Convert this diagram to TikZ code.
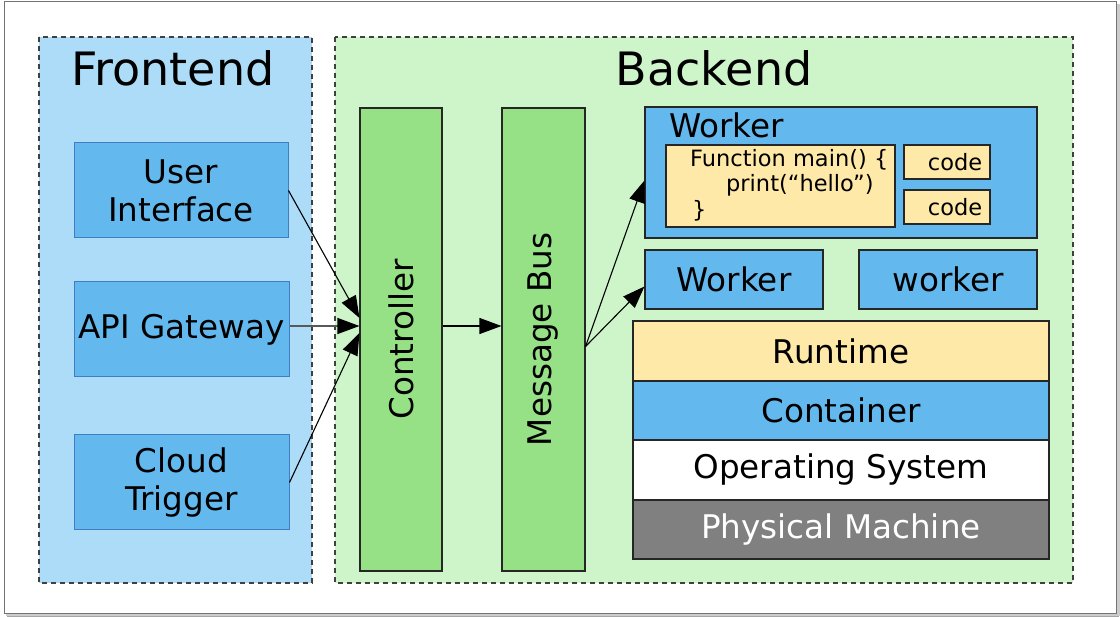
\documentclass[tikz,border=0pt]{standalone}
\usepackage{fontspec}
\setmainfont{DejaVu Sans}
\usetikzlibrary{arrows.meta}
\definecolor{feback}{HTML}{ADDCF8}
\definecolor{beback}{HTML}{CEF5CA}
\definecolor{boxblue}{HTML}{63B9EE}
\definecolor{edgeblue}{HTML}{3F7EC2}
\definecolor{boxgreen}{HTML}{96E086}
\definecolor{boxyellow}{HTML}{FFE9A8}
\definecolor{boxgray}{HTML}{808080}
\tikzset{
  big/.style={font=\fontsize{46}{54}\selectfont},
  mid/.style={font=\fontsize{32.6}{38}\selectfont},
  small/.style={font=\fontsize{22.5}{25}\selectfont},
  region/.style={draw=black!75, line width=1.2pt, dash pattern=on 5pt off 4pt},
  fbox/.style={draw=edgeblue, line width=1pt, fill=boxblue, inner sep=0pt, align=center, mid},
  bbox/.style={draw=black!85, line width=1.1pt, inner sep=0pt, align=center, mid},
  arr/.style={line width=1.1pt, -{Triangle[length=22pt,width=16pt,color=black]}},
}
\begin{document}
\begin{tikzpicture}[x=1pt,y=-1pt]
\useasboundingbox (0,0) rectangle (1120,617);
% page frame with a soft shadow
\fill[black!35] (7,5) rectangle (1119,617);
\fill[black!20] (6,4) rectangle (1120,616);
\draw[black!55, line width=1pt, fill=white] (4,2) rectangle (1116,613);

% regions
\path[region, fill=feback] (39,37) rectangle (312,583);
\path[region, fill=beback] (335,37) rectangle (1073,583);
\node[big] (fetitle) at (173,68) {Frontend};
\node[big] (betitle) at (714,68) {Backend};

% frontend entry points
\node[fbox, minimum width=214pt, minimum height=95pt] (ui) at (181,190.5) {User\\Interface};
\node[fbox, minimum width=215pt, minimum height=95pt] (api) at (181.5,329.5) {API Gateway};
\node[fbox, minimum width=215pt, minimum height=95pt] (cloud) at (181.5,482.5) {Cloud\\Trigger};

% controller and bus
\node[bbox, fill=boxgreen, minimum width=82pt, minimum height=463pt] (ctrl) at (401,339.5) {};
\node[mid, rotate=90] (ctrltext) at (ctrl.center) {Controller};
\node[bbox, fill=boxgreen, minimum width=83pt, minimum height=463pt] (bus) at (543.5,339.5) {};
\node[mid, rotate=90] (bustext) at (bus.center) {Message Bus};

% workers
\node[bbox, fill=boxblue, minimum width=392pt, minimum height=131pt] (wbig) at (841,172.5) {};
\node[mid, anchor=base west, inner sep=0pt] (wbigtext) at (669,138) {Worker};
\node[bbox, fill=boxyellow, minimum width=229pt, minimum height=82pt] (fn) at (780.5,186) {};
\node[small, anchor=base west, inner sep=0pt] (fn1) at (690,167) {Function main() \{};
\node[small, anchor=base west, inner sep=0pt] (fn2) at (726,192) {print(“hello”)};
\node[small, anchor=base west, inner sep=0pt] (fn3) at (692,218) {\}};
\node[bbox, small, fill=boxyellow, minimum width=86pt, minimum height=34pt] (code1) at (947,162) {\hspace*{16pt}code};
\node[bbox, small, fill=boxyellow, minimum width=86pt, minimum height=34pt] (code2) at (947,207) {\hspace*{16pt}code};
\node[bbox, fill=boxblue, minimum width=178pt, minimum height=59pt] (w2) at (734,279.5) {Worker};
\node[bbox, fill=boxblue, minimum width=178pt, minimum height=59pt] (w3) at (948,279.5) {worker};

% software stack
\node[bbox, fill=boxyellow, minimum width=416pt, minimum height=60pt] (rt) at (841,351) {Runtime};
\node[bbox, fill=boxblue, minimum width=416pt, minimum height=59pt] (ct) at (841,410.5) {Container};
\node[bbox, fill=white, minimum width=416pt, minimum height=60pt] (os) at (841,470) {Operating System};
\node[bbox, fill=boxgray, text=white, minimum width=416pt, minimum height=59pt] (pm) at (841,529.5) {Physical Machine};

% connectors
\coordinate (hub) at (ctrl.west |- 0,326);
\draw[arr] (ui.east) -- ([yshift=8pt]hub);
\draw[arr, black!65] (api.east |- hub) -- (hub);
\draw[arr] (cloud.east) -- ([yshift=-7pt]hub);
\draw[arr] (ctrl.east |- hub) -- (bus.west |- hub);
\coordinate (busout) at ([yshift=-7pt]bus.east);
\draw[arr] (busout) -- ([yshift=-8pt]wbig.west);
\draw[arr] (busout) -- ([yshift=-7pt]w2.west);
\end{tikzpicture}
\end{document}
